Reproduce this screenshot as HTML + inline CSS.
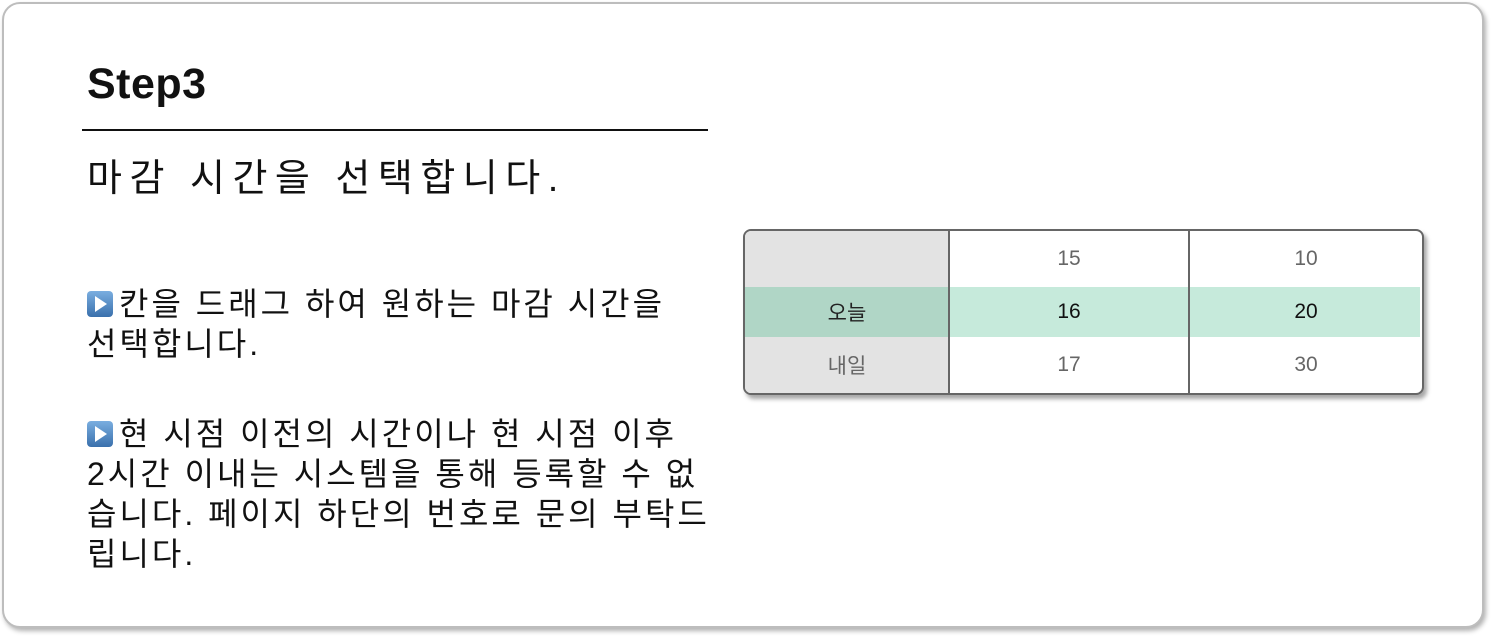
<!DOCTYPE html>
<html><head><meta charset="utf-8"><style>
body{margin:0;width:1498px;height:642px;background:#fff;overflow:hidden;font-family:"Liberation Sans","Noto Sans CJK KR",sans-serif;}
.card{position:absolute;left:2px;top:2px;width:1478px;height:622px;border:2px solid #bdbdbd;border-radius:18px;box-shadow:2px 3px 5px rgba(0,0,0,0.3);background:#fff;}
.abs{position:absolute;}
.title{left:87px;top:60px;font-size:43px;font-weight:bold;color:#111;letter-spacing:0.5px;}
.rule{left:82px;top:129px;width:626px;height:2px;background:#111;}
.sub{left:87px;top:147px;font-size:38px;letter-spacing:7.5px;color:#111;white-space:nowrap;}
.para{left:87px;font-size:32px;letter-spacing:3px;line-height:40px;color:#111;white-space:nowrap;}
.icon{display:inline-block;width:26px;height:26px;border-radius:4px;background:linear-gradient(#7aaee0,#3a70ac);vertical-align:-2px;position:relative;margin-right:6px;}
.icon:after{content:"";position:absolute;left:8px;top:5px;border-left:12px solid #fff;border-top:8px solid transparent;border-bottom:8px solid transparent;}
.tbl{left:743px;top:229px;width:677px;height:162px;border:2px solid #666;border-radius:8px;overflow:hidden;box-shadow:3px 4px 4px rgba(0,0,0,0.35);background:#fff;}
.cell{position:absolute;display:flex;align-items:center;justify-content:center;font-size:21px;color:#666;box-sizing:border-box;}
</style></head><body>
<div class="card"></div>
<div class="abs title">Step3</div>
<div class="abs rule"></div>
<div class="abs sub">마감 시간을 선택합니다.</div>
<div class="abs para" style="top:284px"><span class="icon"></span>칸을 드래그 하여 원하는 마감 시간을<br>선택합니다.</div>
<div class="abs para" style="top:414px"><span class="icon"></span>현 시점 이전의 시간이나 현 시점 이후<br>2시간 이내는 시스템을 통해 등록할 수 없<br>습니다. 페이지 하단의 번호로 문의 부탁드<br>립니다.</div>
<div class="abs tbl">
<div class="cell" style="left:0;top:0;width:204px;height:162px;background:#e3e3e3"></div>
<div class="cell" style="left:0;top:56px;width:675px;height:50px;background:#c6eadb"></div>
<div class="cell" style="left:0;top:56px;width:204px;height:50px;background:#b0d6c6;color:#222">오늘</div>
<div class="cell" style="left:0;top:106px;width:204px;height:56px">내일</div>
<div class="abs" style="left:203px;top:0;width:2px;height:162px;background:#666"></div>
<div class="abs" style="left:443px;top:0;width:2px;height:162px;background:#666"></div>
<div class="cell" style="left:205px;top:0;width:238px;height:56px">15</div>
<div class="cell" style="left:445px;top:0;width:232px;height:56px">10</div>
<div class="cell" style="left:205px;top:56px;width:238px;height:50px;color:#111">16</div>
<div class="cell" style="left:445px;top:56px;width:232px;height:50px;color:#111">20</div>
<div class="cell" style="left:205px;top:106px;width:238px;height:56px">17</div>
<div class="cell" style="left:445px;top:106px;width:232px;height:56px">30</div>
</div>
</body></html>
